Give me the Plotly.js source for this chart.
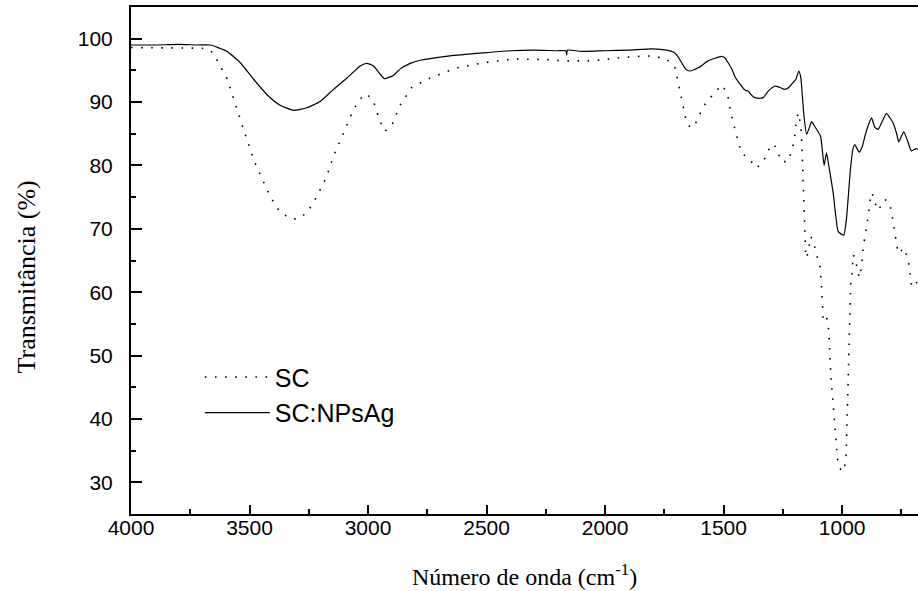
<!DOCTYPE html>
<html>
<head>
<meta charset="utf-8">
<script src="https://cdn.plot.ly/plotly-3.0.1.min.js"></script>
<style>html,body{margin:0;padding:0;background:#fff;}#chart{width:918px;height:591px;}</style>
</head>
<body>
<div id="chart"></div>
<script>
// SC (dotted)
const scWave = [4000,3900,3800,3700,3665,3637,3595,3567,3539,3511,3483,3448,3413,3371,3330,3300,3258,3216,3174,3146,3110,3062,3030,3005,2977,2949,2928,2900,2865,2816,2738,2626,2513,2387,2246,2177,2050,1937,1825,1760,1740,1715,1705,1687,1670,1656,1638,1620,1607,1586,1551,1509,1485,1469,1449,1436,1424,1396,1361,1333,1310,1288,1270,1256,1228,1213,1204,1193,1186,1176,1170,1165,1160,1157,1153,1145,1132,1118,1108,1094,1087,1080,1070,1062,1056,1048,1040,1034,1027,1021,1010,996,984,979,975,971,968,964,958,954,943,938,928,918,911,904,897,890,882,874,862,848,837,822,806,791,785,778,771,764,755,743,726,717,712,707,687,670];
const scT = [98.6,98.6,98.6,98.5,98.2,96.6,93.7,90.6,87.4,84.1,80.9,78.0,75.1,72.6,71.7,71.5,72.5,75.1,78.3,81.5,84.5,88.8,90.6,91.3,90.1,86.9,85.4,86.3,89.5,92.3,93.8,95.4,96.2,96.8,96.7,96.5,96.5,97.0,97.3,97.0,96.7,96.0,95.4,92.3,89.1,86.7,85.9,86.5,87.5,89.3,90.9,92.7,91.5,88.2,85.2,83.5,81.9,81.2,79.6,80.6,82.5,83.4,82.0,80.6,80.6,82.3,83.6,86.9,88.3,86.7,83.4,78.0,72.0,68.8,65.4,66.0,68.8,67.5,65.9,64.3,60.9,55.9,56.5,55.5,53.6,47.0,43.6,40.4,37.2,33.9,32.2,31.7,33.3,39.9,46.5,53.0,57.8,61.2,62.8,65.9,65.4,63.9,62.3,63.9,67.1,68.6,70.4,72.0,74.5,75.7,74.1,72.9,73.6,74.6,74.4,72.8,71.0,69.4,67.8,66.2,66.2,67.0,65.7,64.1,62.4,60.8,61.5,61.3];

// SC:NPsAg (solid)
const agWave = [4000,3900,3800,3720,3665,3595,3539,3483,3427,3371,3314,3258,3202,3146,3089,3033,3005,2977,2949,2931,2893,2865,2822,2780,2654,2500,2400,2300,2200,2166,2162,2159,2100,2000,1900,1800,1740,1712,1695,1677,1660,1642,1625,1607,1565,1509,1495,1481,1465,1452,1430,1410,1396,1380,1368,1345,1333,1310,1284,1262,1242,1225,1207,1195,1183,1175,1171,1161,1150,1140,1129,1118,1108,1091,1076,1066,1056,1038,1017,1005,993,982,965,955,947,928,915,904,888,876,862,848,830,813,800,785,770,761,750,740,725,708,690,670];
const agT = [99.0,99.0,99.1,99.0,99.0,98.0,96.2,93.6,91.2,89.5,88.7,89.1,90.1,92.0,93.8,95.7,96.1,95.7,94.4,93.7,94.2,95.2,96.1,96.6,97.3,97.8,98.1,98.2,98.1,98.1,97.4,98.2,98.0,98.1,98.2,98.4,98.2,97.9,97.3,96.2,95.2,94.9,95.1,95.4,96.5,97.2,97.0,96.2,95.2,94.0,92.8,91.9,91.7,91.0,90.7,90.6,90.7,91.8,92.5,92.3,92.0,92.3,93.1,93.6,94.9,94.0,92.5,87.8,84.9,85.8,86.9,86.3,85.7,84.6,80.0,82.0,79.9,75.7,69.6,69.2,69.0,71.5,79.4,82.5,83.3,82.1,83.0,84.6,86.5,87.5,86.0,85.7,87.0,88.2,87.6,86.7,85.0,83.7,84.6,85.3,84.0,82.3,82.6,82.5];

const seriesNames = ['SC', 'SC:NPsAg'];
const xTitle = 'Número de onda (cm<sup>-1</sup>)';
const yTitle = 'Transmitância (%)';

const traces = [
  {x: scWave, y: scT, name: seriesNames[0], type: 'scatter', mode: 'lines',
   line: {color: '#000', width: 1.6, dash: '1.6px,8.5px'}},
  {x: agWave, y: agT, name: seriesNames[1], type: 'scatter', mode: 'lines',
   line: {color: '#000', width: 1.2, shape: 'spline', smoothing: 0.5}}
];

const layout = {
  width: 918, height: 591,
  margin: {l: 131, r: 0, t: 7, b: 77},
  paper_bgcolor: '#fff', plot_bgcolor: '#fff',
  showlegend: true,
  legend: {x: 0.0875, y: 0.315, xanchor: 'left', yanchor: 'top',
    font: {family: 'Liberation Sans, Arial, sans-serif', size: 25, color: '#000'},
    bgcolor: 'rgba(0,0,0,0)', borderwidth: 0, itemwidth: 65, tracegroupgap: 0},
  xaxis: {
    range: [4000, 680], dtick: 500, tick0: 0,
    ticks: 'inside', ticklen: 9, tickwidth: 2, tickcolor: '#000',
    minor: {dtick: 250, tick0: 0, ticks: 'inside', ticklen: 5, tickwidth: 2, tickcolor: '#000'},
    showline: true, linewidth: 2, linecolor: '#000', mirror: true,
    showgrid: false, zeroline: false,
    tickfont: {family: 'Liberation Sans, Arial, sans-serif', size: 21, color: '#000'},
    ticklabelstandoff: -6,
    title: {text: xTitle, standoff: 30, font: {family: 'Liberation Serif, Times New Roman, serif', size: 24, color: '#000'}}
  },
  yaxis: {
    range: [25, 105], dtick: 10, tick0: 0,
    ticks: 'inside', ticklen: 11, tickwidth: 2, tickcolor: '#000',
    minor: {dtick: 5, tick0: 0, ticks: 'inside', ticklen: 5, tickwidth: 2, tickcolor: '#000'},
    showline: true, linewidth: 2, linecolor: '#000', mirror: false,
    showgrid: false, zeroline: false,
    tickfont: {family: 'Liberation Sans, Arial, sans-serif', size: 21, color: '#000'},
    ticklabelstandoff: 12
  },
  annotations: [{
    text: yTitle, textangle: -90, xref: 'paper', yref: 'paper',
    x: -0.1334, y: 0.4665, xanchor: 'center', yanchor: 'middle', showarrow: false,
    font: {family: 'Liberation Serif, Times New Roman, serif', size: 26, color: '#000'}
  }]
};

Plotly.newPlot('chart', traces, layout, {displayModeBar: false, staticPlot: true});
</script>
</body>
</html>
